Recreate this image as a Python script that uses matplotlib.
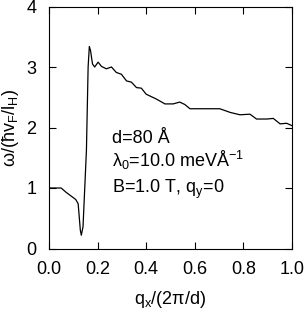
import matplotlib
matplotlib.use("Agg")
import matplotlib.pyplot as plt

plt.rcParams['font.family'] = ['Liberation Sans', 'DejaVu Sans']
plt.rcParams['mathtext.fontset'] = 'custom'
plt.rcParams['mathtext.rm'] = 'Liberation Sans'

qx = [0.0, 0.05, 0.07, 0.10, 0.11, 0.12, 0.129, 0.133, 0.14, 0.154, 0.161,
      0.166, 0.171, 0.179, 0.188, 0.202, 0.216, 0.236, 0.257, 0.277, 0.298,
      0.319, 0.339, 0.36, 0.38, 0.40, 0.442, 0.477, 0.511, 0.538, 0.559,
      0.58, 0.621, 0.703, 0.745, 0.786, 0.827, 0.854, 0.896, 0.923, 0.951,
      0.978, 1.0]
omega = [1.0, 1.0, 0.93, 0.84, 0.81, 0.74, 0.30, 0.22, 0.36, 1.62, 3.0,
         3.34, 3.27, 3.05, 3.0, 3.08, 3.01, 2.97, 3.0, 2.91, 2.88,
         2.77, 2.75, 2.66, 2.65, 2.55, 2.47, 2.39, 2.39, 2.42, 2.38,
         2.31, 2.31, 2.31, 2.25, 2.21, 2.22, 2.14, 2.14, 2.15, 2.06,
         2.07, 2.03]

xticks = [0.0, 0.2, 0.4, 0.6, 0.8, 1.0]
yticks = [0, 1, 2, 3, 4]

fig = plt.figure(figsize=(3.05, 3.11), dpi=100)
ax = fig.add_axes([49/305, 1 - 248.5/311, 243/305, 242/311])

ax.plot(qx, omega, color='black', lw=0.9)

ax.set_xlim(0, 1)
ax.set_ylim(0, 4)
ax.set_xticks(xticks)
ax.set_xticklabels([f'{t:.1f}' for t in xticks])
ax.set_yticks(yticks)
ax.tick_params(direction='in', top=True, right=True, length=5, width=0.8,
               labelsize=13)
ax.tick_params(axis='x', pad=9)
ax.tick_params(axis='y', pad=9)
for s in ax.spines.values():
    s.set_linewidth(0.8)

ax.set_xlabel(r'q$_\mathregular{x}$/(2π/d)', fontsize=13, labelpad=8)
ax.set_ylabel(r'ω/(ħv$_\mathregular{F}$/l$_\mathregular{H}$)', fontsize=13, labelpad=4)

ax.text(0.26, 0.436, 'd=80 Å', transform=ax.transAxes, fontsize=13)
ax.text(0.26, 0.337, r'λ$_\mathregular{0}$=10.0 meVÅ$^\mathregular{-1}$',
        transform=ax.transAxes, fontsize=13)
ax.text(0.26, 0.229, r'B=1.0 T, q$_\mathregular{y}$=0', transform=ax.transAxes,
        fontsize=13)

fig.savefig('out.png', dpi=100)
